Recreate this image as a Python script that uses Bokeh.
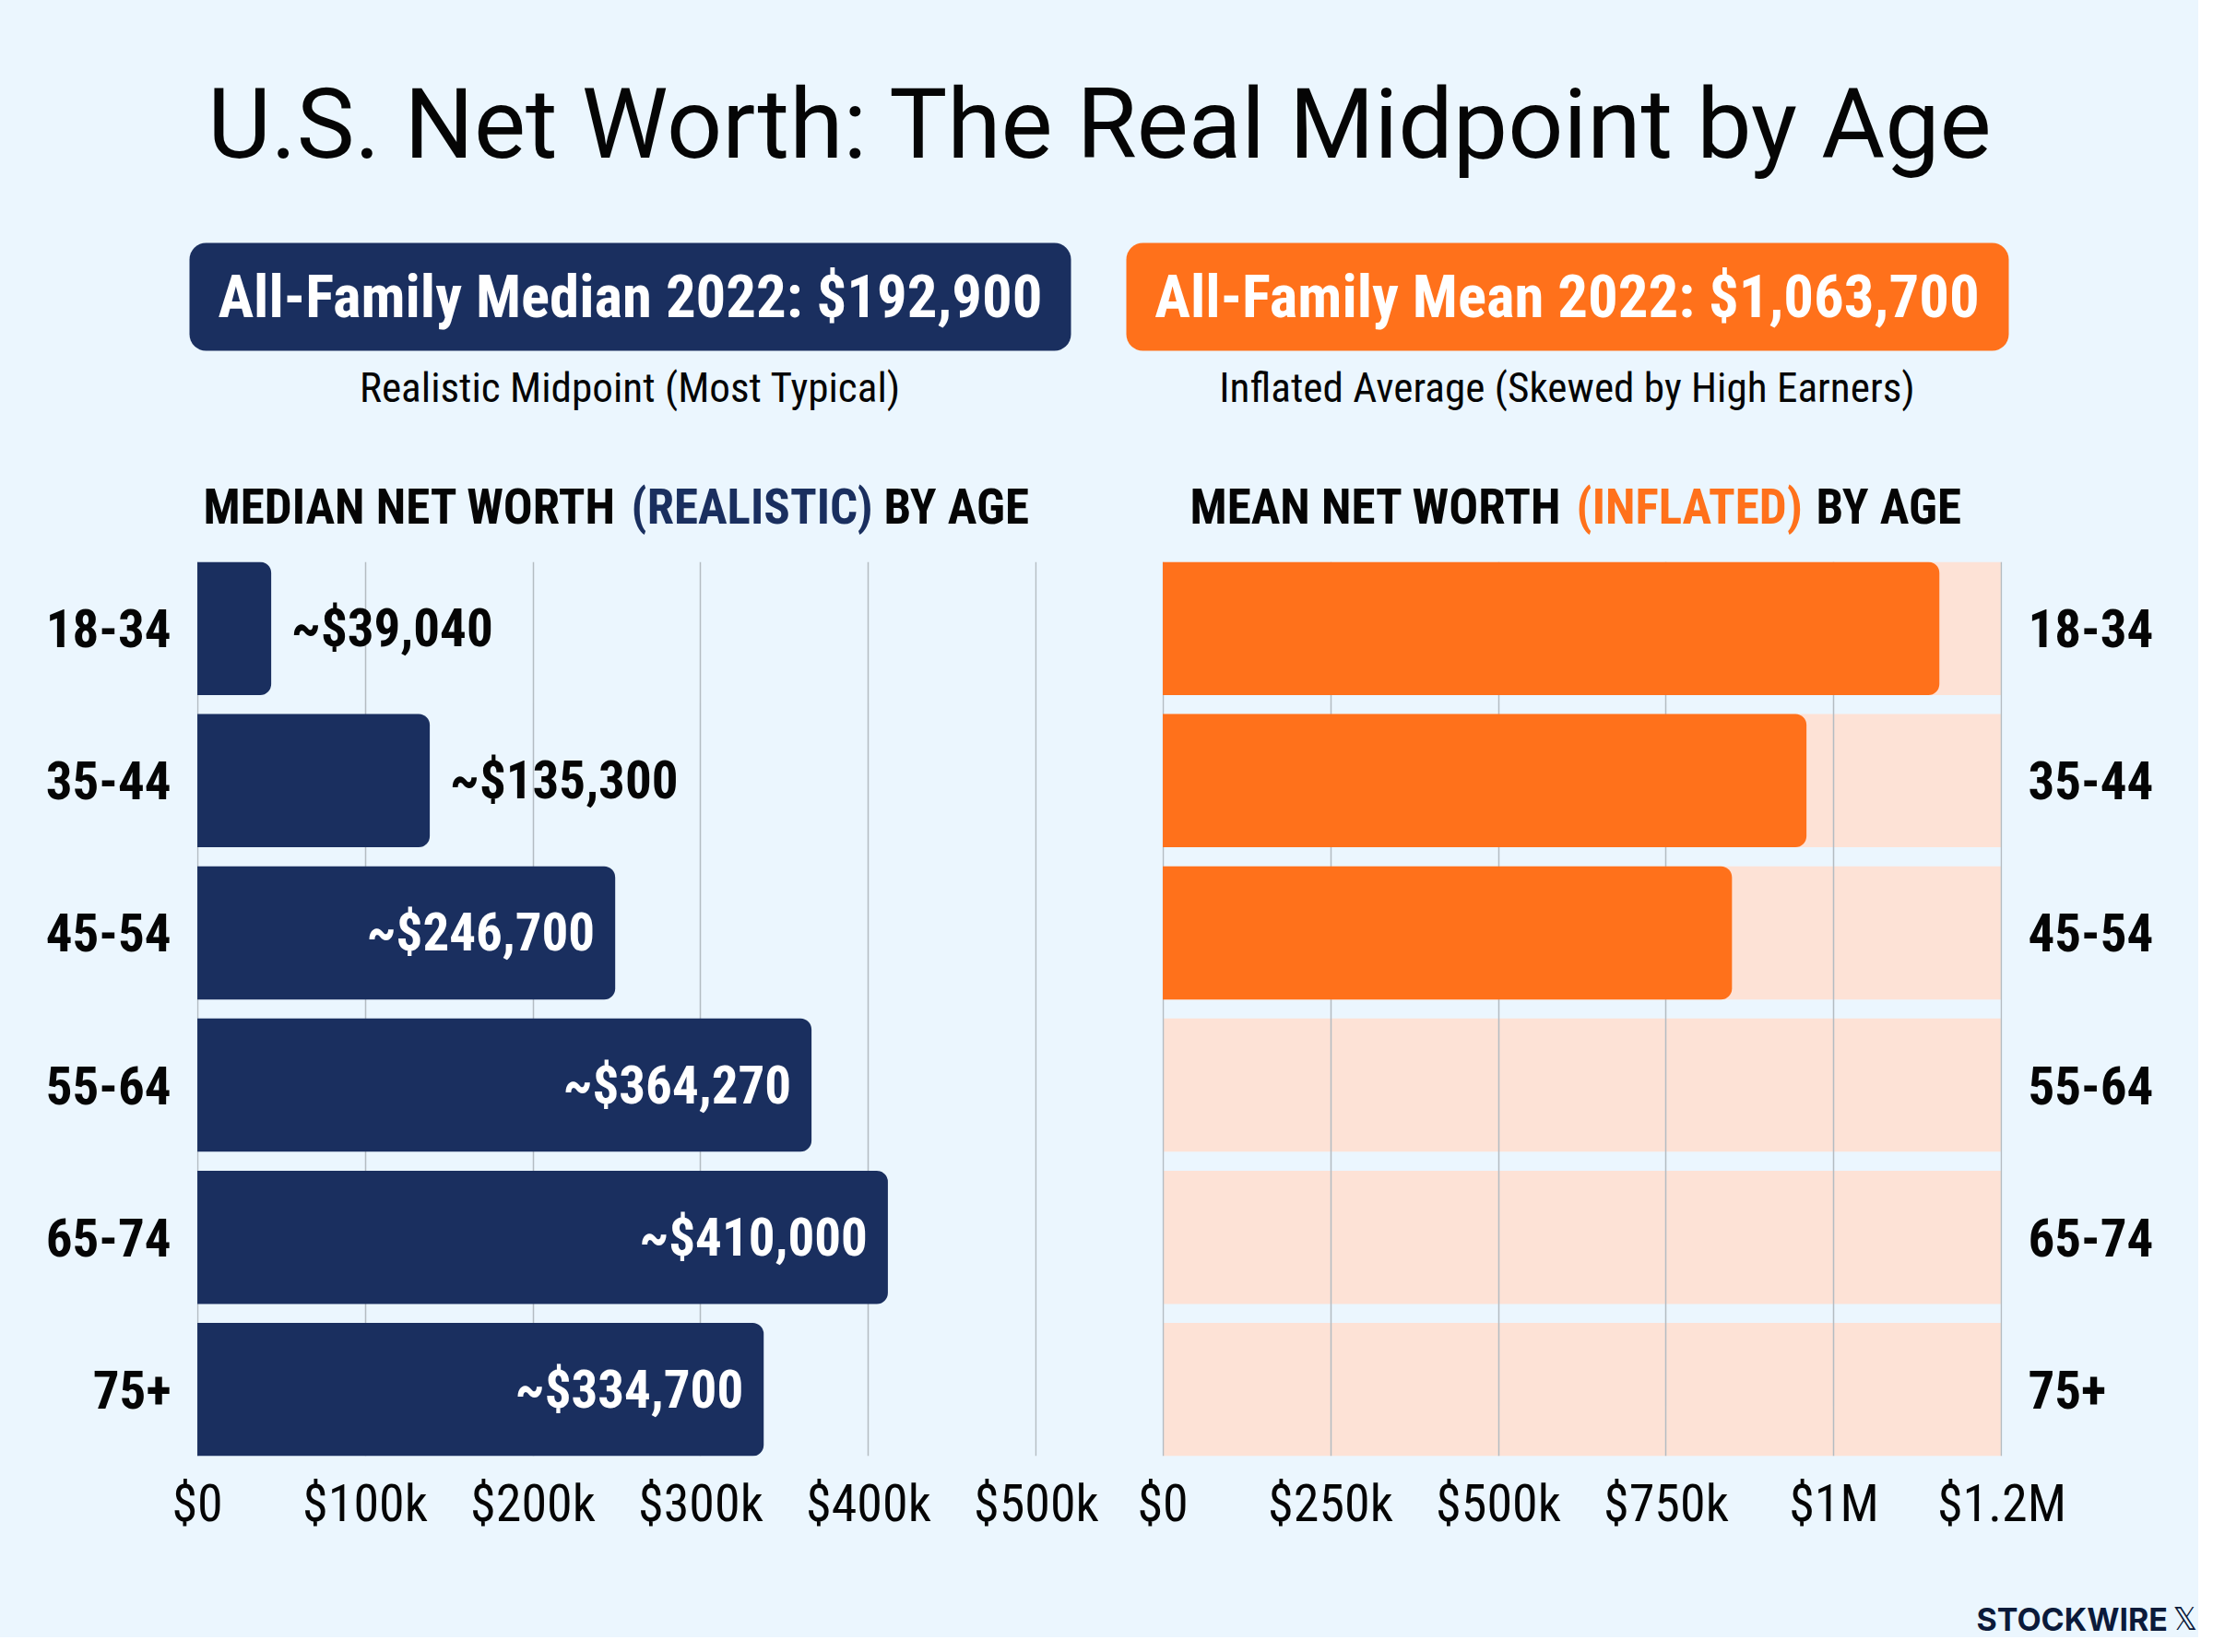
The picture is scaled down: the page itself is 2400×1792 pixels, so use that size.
from bokeh.embed import file_html
from bokeh.resources import INLINE
from bokeh.plotting import figure
from bokeh.layouts import column, row
from bokeh.core.properties import value
from bokeh.models import FactorRange, Range1d, FixedTicker, ColumnDataSource

# ---- data ----
age_groups = ["18-34", "35-44", "45-54", "55-64", "65-74", "75+"]
median_bar_lengths = [44000, 138500, 249000, 366000, 411500, 337500]
median_value_labels = ["~$39,040", "~$135,300", "~$246,700", "~$364,270", "~$410,000", "~$334,700"]
mean_groups_with_bar = ["18-34", "35-44", "45-54"]
mean_bar_lengths = [1157000, 959000, 848000]
mean_track_length = 1250000
median_ticks = [0, 100000, 200000, 300000, 400000, 500000]
median_tick_labels = ["$0", "$100k", "$200k", "$300k", "$400k", "$500k"]
mean_ticks = [0, 250000, 500000, 750000, 1000000, 1250000]
mean_tick_labels = ["$0", "$250k", "$500k", "$750k", "$1M", "$1.2M"]

TITLE = "U.S. Net Worth: The Real Midpoint by Age"
MEDIAN_PILL = "All-Family Median 2022: $192,900"
MEAN_PILL = "All-Family Mean 2022: $1,063,700"
MEDIAN_SUB = "Realistic Midpoint (Most Typical)"
MEAN_SUB = "Inflated Average (Skewed by High Earners)"

# ---- styles ----
BG = "#ebf6fe"
NAVY = "#1a2f5f"
ORANGE = "#ff711b"
TRACK = "#fde2d6"
GRID = "#b4bcc2"
INK = "#050505"
NARROW = "Roboto Condensed"

PAGE_W = 2384
HEADER_BOTTOM = 617
CHART_BOTTOM = 1587
ROW_BOTTOM = 1700
PAGE_BOTTOM = 1784


def base_page_figure(y0, y1):
    p = figure(width=PAGE_W, height=y1 - y0, x_range=Range1d(8, 8 + PAGE_W), y_range=Range1d(y1, y0),
               output_backend="svg", toolbar_location=None, x_axis_type=None, y_axis_type=None,
               min_border=0, background_fill_color=BG, border_fill_color=BG, outline_line_color=None,
               styles={"background-color": BG})
    p.grid.visible = False
    return p


# ---- header ----
head = base_page_figure(8, HEADER_BOTTOM)


def put(p, x, y, txt, size, color=INK, font=NARROW, style="normal", align="center"):
    p.text(x=[x], y=[y], text=[txt], text_font=value(font), text_font_size=f"{size}px", text_font_style=style,
           text_color=color, text_align=align, text_baseline="middle")


put(head, 1201, 142, TITLE, 105.7, font="Roboto")
head.quad(left=[213], right=[1169], top=[271], bottom=[388], fill_color=NAVY, line_color=None, border_radius=18)
head.quad(left=[1229], right=[2186], top=[271], bottom=[388], fill_color=ORANGE, line_color=None, border_radius=18)
put(head, 691, 329, MEDIAN_PILL, 64.8, color="#ffffff", style="bold")
put(head, 1707, 329, MEAN_PILL, 64.8, color="#ffffff", style="bold")
put(head, 691, 428, MEDIAN_SUB, 45.2)
put(head, 1707, 428, MEAN_SUB, 45.2)

put(head, 228, 557, "MEDIAN NET WORTH", 53, style="bold", align="left")
put(head, 692, 557, "(REALISTIC)", 53, color=NAVY, style="bold", align="left")
put(head, 966, 557, "BY AGE", 53, style="bold", align="left")
put(head, 1298, 557, "MEAN NET WORTH", 53, style="bold", align="left")
put(head, 1717, 557, "(INFLATED)", 53, color=ORANGE, style="bold", align="left")
put(head, 1977, 557, "BY AGE", 53, style="bold", align="left")

# ---- charts ----
factors = list(reversed(age_groups))
BAR_H = 0.875


def chart(width, border_l, border_r, x_end, ticks, tick_labels, y_loc, cat_standoff):
    pad = x_end * 0.0006  # keeps the grid lines at both ends visible
    yr = FactorRange(factors=factors, range_padding=-(1 - BAR_H) / 2, range_padding_units="absolute")
    p = figure(width=width, height=ROW_BOTTOM - HEADER_BOTTOM, x_range=Range1d(-pad, x_end + pad), y_range=yr,
               y_axis_location=y_loc, output_backend="svg", toolbar_location=None,
               min_border_left=border_l, min_border_right=border_r, min_border_top=0,
               min_border_bottom=ROW_BOTTOM - CHART_BOTTOM,
               background_fill_color=BG, border_fill_color=BG, outline_line_color=None,
               styles={"background-color": BG})
    p.ygrid.visible = False
    p.xgrid.grid_line_color = GRID
    p.xgrid.grid_line_width = 1.5
    p.xaxis.ticker = FixedTicker(ticks=ticks)
    p.xaxis.major_label_overrides = dict(zip(ticks, tick_labels))
    p.xaxis.major_label_text_font = NARROW
    p.xaxis.major_label_text_font_size = "56px"
    p.xaxis.major_label_text_color = INK
    p.xaxis.major_label_standoff = 12
    p.yaxis.major_label_text_font = NARROW
    p.yaxis.major_label_text_font_style = "bold"
    p.yaxis.major_label_text_font_size = "57px"
    p.yaxis.major_label_text_color = INK
    p.yaxis.major_label_standoff = cat_standoff
    for a in (p.xaxis, p.yaxis):
        a.axis_line_color = None
        a.major_tick_line_color = None
        a.minor_tick_line_color = None
    return p


left = chart(1202, 213, 78, 500000, median_ticks, median_tick_labels, "left", 22)
left.hbar(y=age_groups, left=0, right=median_bar_lengths, height=BAR_H, fill_color=NAVY, line_color=None,
          border_radius=(0, 12, 12, 0))

THRESHOLD_INSIDE = 200000
outside = [i for i, v in enumerate(median_bar_lengths) if v < THRESHOLD_INSIDE]
inside = [i for i, v in enumerate(median_bar_lengths) if v >= THRESHOLD_INSIDE]
for idx, color, align, off in ((outside, INK, "left", 22), (inside, "#ffffff", "right", -22)):
    src = ColumnDataSource(dict(
        y=[age_groups[i] for i in idx],
        x=[median_bar_lengths[i] for i in idx],
        t=[median_value_labels[i] for i in idx]))
    left.text(x="x", y="y", text="t", source=src, x_offset=off, text_font=value(NARROW), text_font_style="bold",
              text_font_size="57px", text_color=color, text_align=align, text_baseline="middle")

right = chart(1182, 58, 213, mean_track_length, mean_ticks, mean_tick_labels, "right", 22)
right.hbar(y=age_groups, left=0, right=[mean_track_length] * len(age_groups), height=BAR_H,
           fill_color=TRACK, line_color=None, level="image")
right.hbar(y=mean_groups_with_bar, left=0, right=mean_bar_lengths, height=BAR_H, fill_color=ORANGE,
           line_color=None, border_radius=(0, 12, 12, 0))

# ---- footer ----
foot = base_page_figure(ROW_BOTTOM, PAGE_BOTTOM)
put(foot, 2151, 1764, "STOCKWIRE", 34, color="#0b1a3a", font="Inter", style="bold", align="left")
put(foot, 2364, 1764, "𝕏", 33, color="#0b1a3a", font="DejaVu Sans", align="left")

page = column(head, row(left, right), foot, styles={"background-color": BG})
open("out.html", "w").write(file_html(page, INLINE))
